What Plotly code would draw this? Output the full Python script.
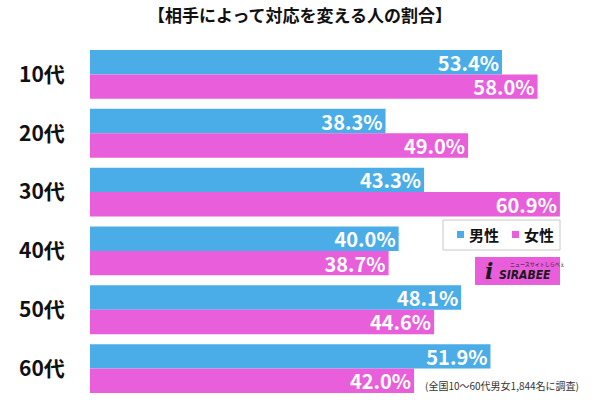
import plotly.graph_objects as go

categories = ["10代", "20代", "30代", "40代", "50代", "60代"]
male = [53.4, 38.3, 43.3, 40.0, 48.1, 51.9]
female = [58.0, 49.0, 60.9, 38.7, 44.6, 42.0]
series_names = ["男性", "女性"]
title_text = "【相手によって対応を変える人の割合】"
note_text = "(全国10～60代男女1,844名に調査)"

BLUE = "#4BADE8"
PINK = "#E95EDB"
FONT = "Noto Sans CJK JP"

W, H = 600, 400
L, R, T, B = 90, 10, 45, 2
scale = 7.716  # px per percent
xmax = (W - L - R) / scale

def px_x(px):
    return (px - L) / (W - L - R)

def px_y(py):
    return (H - B - py) / (H - T - B)

fig = go.Figure()
colors = [BLUE, PINK]
for name, vals, col in zip(series_names, [male, female], colors):
    fig.add_trace(go.Bar(
        y=categories, x=vals, name=name, orientation="h",
        marker=dict(color=col, line=dict(width=0)),
        texttemplate="%{x:.1f}%", textposition="inside", insidetextanchor="end",
        constraintext="none",
        textfont=dict(color="white", size=20, family=FONT, weight="bold"),
        hoverinfo="skip",
    ))

fig.update_layout(
    width=W, height=H,
    margin=dict(l=L, r=R, t=T, b=B, autoexpand=False),
    paper_bgcolor="white", plot_bgcolor="white",
    barmode="group", bargap=0.17, bargroupgap=0,
    title=dict(text=title_text, x=0.5, xanchor="center", y=1 - 16 / H, yanchor="middle",
               font=dict(family=FONT, size=17, color="#111", weight="bold")),
    xaxis=dict(range=[0, xmax], visible=False, fixedrange=True),
    yaxis=dict(autorange="reversed", showgrid=False, zeroline=False, showline=False,
               ticks="outside", ticklen=20, tickcolor="rgba(0,0,0,0)", fixedrange=True,
               tickfont=dict(family=FONT, size=21, color="#111", weight="bold")),
    showlegend=False,
)

# legend box (drawn)
fig.add_shape(type="rect", xref="paper", yref="paper",
              x0=px_x(443), x1=px_x(560), y0=px_y(250), y1=px_y(220),
              fillcolor="white", line=dict(color="#c8c8c8", width=1), layer="above")
for name, col, sx, tx in zip(series_names, colors, [457, 512], [467, 522]):
    fig.add_shape(type="rect", xref="paper", yref="paper",
                  x0=px_x(sx), x1=px_x(sx + 7), y0=px_y(238), y1=px_y(231),
                  fillcolor=col, line=dict(width=0), layer="above")
    fig.add_annotation(xref="paper", yref="paper", x=px_x(tx), y=px_y(235),
                       xanchor="left", yanchor="middle", text=name, showarrow=False,
                       font=dict(family=FONT, size=15, color="#111", weight="bold"))

# SIRABEE logo block
fig.add_shape(type="rect", xref="paper", yref="paper",
              x0=px_x(475), x1=px_x(560), y0=px_y(285), y1=px_y(257),
              fillcolor=PINK, line=dict(width=0), layer="above")
fig.add_annotation(xref="paper", yref="paper", x=px_x(497), y=px_y(275),
                   xanchor="left", yanchor="middle",
                   text="<i><b>SIRABEE</b></i>", showarrow=False,
                   font=dict(family="DejaVu Sans Condensed, DejaVu Sans", size=12, color="#1a1a1a"))
fig.add_annotation(xref="paper", yref="paper", x=px_x(508), y=px_y(264),
                   xanchor="left", yanchor="middle",
                   text="ニュースサイトしらべぇ", showarrow=False,
                   font=dict(family=FONT, size=5, color="#1a1a1a"))
fig.add_annotation(xref="paper", yref="paper", x=px_x(489), y=px_y(271),
                   xanchor="center", yanchor="middle",
                   text="<b><i>i</i></b>", showarrow=False,
                   font=dict(family="DejaVu Serif", size=22, color="#1a1a1a"))

fig.add_annotation(xref="paper", yref="paper", x=px_x(423), y=px_y(385),
                   xanchor="left", yanchor="middle",
                   text=note_text, showarrow=False,
                   font=dict(family=FONT, size=10, color="#333"))

fig.write_html("out.html", config={"displayModeBar": False},
               post_script="document.body.style.margin='0';")
